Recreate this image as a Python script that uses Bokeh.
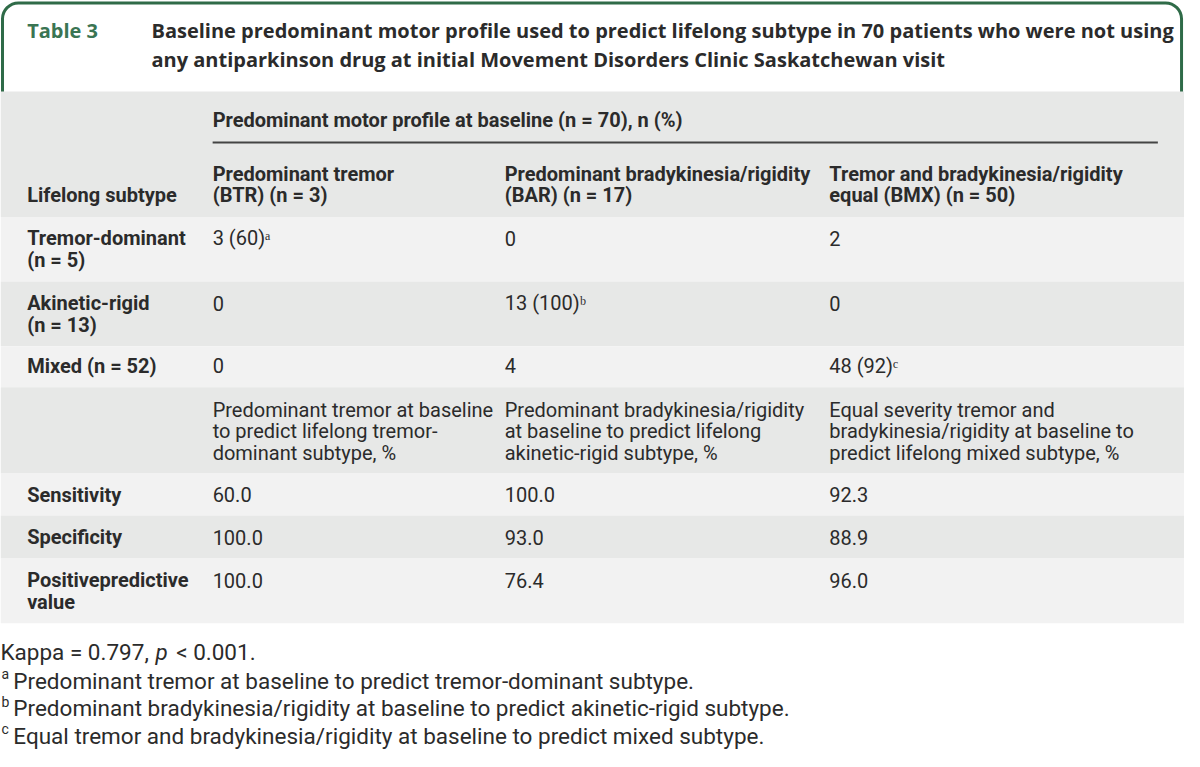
from bokeh.plotting import figure
from bokeh.models import Range1d
from bokeh.embed import file_html
from bokeh.resources import INLINE
from bokeh.core.properties import value

# ---------------- data ----------------
table_label = "Table 3"
title_lines = [
    "Baseline predominant motor profile used to predict lifelong subtype in 70 patients who were not using",
    "any antiparkinson drug at initial Movement Disorders Clinic Saskatchewan visit",
]
span_header = "Predominant motor profile at baseline (n = 70), n (%)"
stub_header = "Lifelong subtype"
col_headers = [
    ["Predominant tremor", "(BTR) (n = 3)"],
    ["Predominant bradykinesia/rigidity", "(BAR) (n = 17)"],
    ["Tremor and bradykinesia/rigidity", "equal (BMX) (n = 50)"],
]
subtypes = [["Tremor-dominant", "(n = 5)"], ["Akinetic-rigid", "(n = 13)"], ["Mixed (n = 52)"]]
counts = [
    ["3 (60)\u1d43", "0", "2"],
    ["0", "13 (100)\u1d47", "0"],
    ["0", "4", "48 (92)\u1d9c"],
]
pred_desc = [
    ["Predominant tremor at baseline", "to predict lifelong tremor-", "dominant subtype, %"],
    ["Predominant bradykinesia/rigidity", "at baseline to predict lifelong", "akinetic-rigid subtype, %"],
    ["Equal severity tremor and", "bradykinesia/rigidity at baseline to", "predict lifelong mixed subtype, %"],
]
metrics = [["Sensitivity"], ["Specificity"], ["Positivepredictive", "value"]]
metric_values = [
    ["60.0", "100.0", "92.3"],
    ["100.0", "93.0", "88.9"],
    ["100.0", "76.4", "96.0"],
]
kappa_parts = ["Kappa = 0.797,", "p", "< 0.001."]
footnotes = [
    ("a", "Predominant tremor at baseline to predict tremor-dominant subtype."),
    ("b", "Predominant bradykinesia/rigidity at baseline to predict akinetic-rigid subtype."),
    ("c", "Equal tremor and bradykinesia/rigidity at baseline to predict mixed subtype."),
]

# ---------------- layout ----------------
W, H = 1200, 767
GREEN = "#2f6b48"
TABLE_GREEN = "#3a7553"
DARK_BAND = "#e7e8e7"
LIGHT_BAND = "#f2f2f2"
TXT = "#2b2b2b"
FONT = "Roboto"
TITLE_FONT = "Open Sans"
FS = "20px"
LH = 22
col_x = [27, 215, 511, 840]
band_edges = [93, 221, 287, 353, 395, 483, 526, 570, 636]
band_colors = [DARK_BAND, LIGHT_BAND, DARK_BAND, LIGHT_BAND, DARK_BAND, LIGHT_BAND, DARK_BAND, LIGHT_BAND]

p = figure(width=1184, height=751, output_backend="svg", toolbar_location=None,
           x_range=Range1d(0, W), y_range=Range1d(H, 0))
p.axis.visible = False
p.grid.visible = False
p.outline_line_color = None
p.background_fill_color = "white"
p.border_fill_color = "white"
p.min_border = 0

# header box with rounded green border
p.quad(left=2, right=1197, top=2.5, bottom=130, fill_color="white",
       line_color=GREEN, line_width=3, border_radius=16)

# bands
p.quad(left=[0] * len(band_colors), right=[W] * len(band_colors),
       top=band_edges[:-1], bottom=band_edges[1:], fill_color=band_colors, line_color=None)


def txt(x, y, s, bold=False, color=TXT, size=FS, font=FONT, style=None):
    fs = style if style else ("bold" if bold else "normal")
    p.text(x=[x], y=[y], text=[s], text_font=value(font), text_font_size=size,
           text_font_style=fs, text_color=color, text_baseline="middle", text_align="left")


# title
txt(27, 31, table_label, bold=True, color=TABLE_GREEN, size="20px", font=TITLE_FONT)
for i, line in enumerate(title_lines):
    txt(153, 31 + i * 29, line, bold=True, size="20px", font=TITLE_FONT)

# header rows
txt(col_x[1], 122, span_header, bold=True)
p.segment(x0=[col_x[1]], y0=[145], x1=[1173], y1=[145], line_color="#444444", line_width=2)
txt(col_x[0], 199, stub_header, bold=True)
for j, hdr in enumerate(col_headers):
    for k, line in enumerate(hdr):
        txt(col_x[j + 1], 177 + k * LH, line, bold=True)

# count rows
for i, lab in enumerate(subtypes):
    y0 = band_edges[1 + i] + 22 - (2 if i == 2 else 0)
    for k, line in enumerate(lab):
        txt(col_x[0], y0 + k * LH, line, bold=True)
    for j, v in enumerate(counts[i]):
        txt(col_x[j + 1], y0, v)

# description row
y0 = band_edges[4] + 23
for j, desc in enumerate(pred_desc):
    for k, line in enumerate(desc):
        txt(col_x[j + 1], y0 + k * LH, line)

# metrics rows
for i, lab in enumerate(metrics):
    y0 = band_edges[5 + i] + 22
    for k, line in enumerate(lab):
        txt(col_x[0], y0 + k * LH, line, bold=True)
    for j, v in enumerate(metric_values[i]):
        txt(col_x[j + 1], y0, v)

# footnotes
FFS = "22.5px"
txt(0, 665, kappa_parts[0], size=FFS)
txt(157, 665, kappa_parts[1], size=FFS, style="italic")
txt(178, 665, kappa_parts[2], size=FFS)
for i, (mark, note) in enumerate(footnotes):
    y = 695 + i * 28
    txt(1, y - 7, mark, size="14px")
    txt(13, y, note, size=FFS)

open("out.html", "w").write(file_html(p, INLINE))
